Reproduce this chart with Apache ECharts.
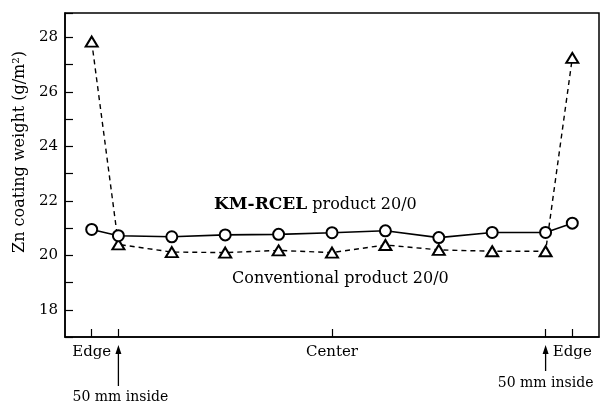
<!DOCTYPE html>
<html>
<head>
<meta charset="utf-8">
<script src="https://cdn.jsdelivr.net/npm/echarts@6/dist/echarts.min.js"></script>
<style>
  html, body { margin: 0; padding: 0; background: #fff; }
  #main { width: 602px; height: 407px; }
</style>
</head>
<body>
<div id="main"></div>
<script>
// positions across the strip width: 0 = edge, 1 = 50 mm inside, 9 = center, 18 = other edge
var positions = [0, 1, 3, 5, 7, 9, 11, 13, 15, 17, 18];
var kmRcel = [20.95, 20.72, 20.68, 20.75, 20.77, 20.83, 20.9, 20.65, 20.84, 20.84, 21.18];
var conventional = [27.85, 20.4, 20.12, 20.1, 20.18, 20.1, 20.38, 20.2, 20.15, 20.15, 27.25];
var xTickValues = [0, 1, 9, 17, 18];
var xLabelText = { 0: 'Edge', 9: 'Center', 18: 'Edge' };
var yLabelValues = [18, 20, 22, 24, 26, 28];

var serif = '"DejaVu Serif", "Liberation Serif", serif';
var chart = echarts.init(document.getElementById('main'));

function pairs(xs, ys) {
  var out = [];
  for (var i = 0; i < xs.length; i++) out.push([xs[i], ys[i]]);
  return out;
}

var option = {
  backgroundColor: '#fff',
  animation: false,
  grid: {
    left: 65, right: 3, top: 13, bottom: 70,
    show: true, borderColor: '#000', borderWidth: 1.5
  },
  xAxis: {
    type: 'value',
    min: -1,
    max: 19,
    splitLine: { show: false },
    axisLine: { onZero: false, lineStyle: { color: '#000', width: 1.5 } },
    axisTick: {
      inside: true, length: 8,
      customValues: xTickValues,
      lineStyle: { color: '#000', width: 1.2 }
    },
    axisLabel: {
      customValues: [0, 9, 18],
      formatter: function (v) { return xLabelText[v] || ''; },
      color: '#000', fontFamily: serif, fontSize: 15, margin: 8
    }
  },
  yAxis: {
    type: 'value',
    min: 17,
    max: 28.9,
    interval: 1,
    splitLine: { show: false },
    axisLine: { onZero: false, lineStyle: { color: '#000', width: 1.5 } },
    axisTick: { inside: true, length: 8, lineStyle: { color: '#000', width: 1.2 } },
    axisLabel: {
      customValues: yLabelValues,
      color: '#000', fontFamily: serif, fontSize: 15, margin: 7
    }
  },
  series: [
    {
      name: 'KM-RCEL product 20/0',
      type: 'line',
      data: pairs(positions, kmRcel),
      symbol: 'emptyCircle',
      symbolSize: 11,
      lineStyle: { color: '#000', width: 1.6 },
      itemStyle: { color: '#000', borderWidth: 1.6 },
      z: 3
    },
    {
      name: 'Conventional product 20/0',
      type: 'line',
      data: pairs(positions, conventional),
      symbol: 'emptyTriangle',
      symbolSize: [12, 10],
      lineStyle: { color: '#000', width: 1.4, type: [5, 4] },
      itemStyle: { color: '#000', borderWidth: 1.6 },
      z: 2
    }
  ]
};
chart.setOption(option);

// annotations: axis name, series labels and the "50 mm inside" arrows
var axisBottom = chart.convertToPixel({ yAxisIndex: 0 }, 17);
var leftIn = chart.convertToPixel({ xAxisIndex: 0 }, 1);
var rightIn = chart.convertToPixel({ xAxisIndex: 0 }, 17);

function arrow(x, y1, y2) {
  return [
    { type: 'line', shape: { x1: x, y1: y1 + 8, x2: x, y2: y2 }, style: { stroke: '#000', lineWidth: 1.3 } },
    { type: 'polygon', shape: { points: [[x, y1], [x - 3, y1 + 9], [x + 3, y1 + 9]] }, style: { fill: '#000' } }
  ];
}

var graphics = [
  {
    type: 'text', x: 20, y: 152, rotation: Math.PI / 2,
    style: {
      text: 'Zn coating weight (g/m\u00b2)',
      font: '16px ' + serif, fill: '#000', align: 'center', verticalAlign: 'middle'
    }
  },
  {
    type: 'text', left: 214, top: 196,
    style: {
      text: '{b|KM-RCEL} product 20/0',
      font: '16px ' + serif, fill: '#000',
      rich: { b: { fontFamily: serif, fontSize: 17, fontWeight: 'bold', fill: '#000' } }
    }
  },
  {
    type: 'text', left: 232, top: 271,
    style: { text: 'Conventional product 20/0', font: '16px ' + serif, fill: '#000' }
  },
  {
    type: 'text', x: leftIn + 2, y: axisBottom + 53,
    style: { text: '50 mm inside', font: '14px ' + serif, fill: '#000', align: 'center' }
  },
  {
    type: 'text', x: rightIn + 0, y: axisBottom + 39,
    style: { text: '50 mm inside', font: '14px ' + serif, fill: '#000', align: 'center' }
  }
].concat(arrow(leftIn, axisBottom + 8, axisBottom + 49))
 .concat(arrow(rightIn, axisBottom + 8, axisBottom + 34));

chart.setOption({ graphic: graphics });
</script>
</body>
</html>
